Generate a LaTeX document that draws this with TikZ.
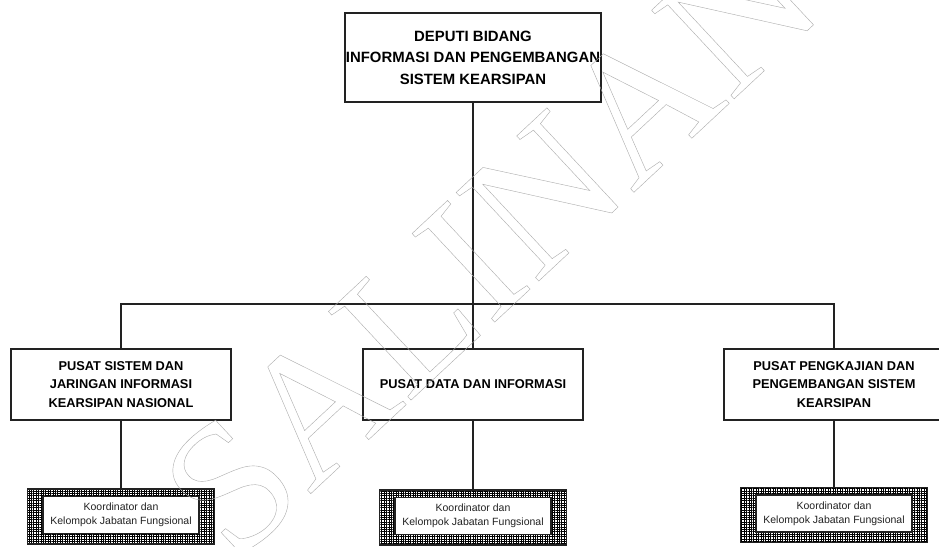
\documentclass[tikz,border=0pt]{standalone}
\usepackage{fontspec}
\setmainfont{Liberation Sans}
\newfontfamily\wmfont{Liberation Serif}
\usetikzlibrary{patterns.meta}
\definecolor{ln}{HTML}{222222}
\tikzset{
 lev1/.style={draw=ln, line width=1.6pt, minimum width=256pt, minimum height=89pt, align=center,
   font=\fontsize{14.9}{21.5}\selectfont\bfseries, inner sep=0pt},
 lev2/.style={draw=ln, line width=1.6pt, minimum width=220pt, minimum height=71pt, align=center,
   font=\fontsize{12.8}{18.5}\selectfont\bfseries, inner sep=0pt},
 gridbox/.style={draw=ln, line width=1.4pt, minimum width=187pt, minimum height=55pt, inner sep=0pt,
   pattern={Hatch[distance=2.4pt, line width=0.5pt]}, pattern color=black},
 innerbox/.style={draw=ln, fill=white, line width=1.4pt, minimum width=156pt, minimum height=37pt,
   align=center, font=\fontsize{10.5}{14}\selectfont, inner sep=0pt, text=ln},
 conn/.style={draw=ln, line width=1.6pt},
 wmark/.style={rotate=43, text=black!33, inner sep=0pt},
}
\begin{document}
\begin{tikzpicture}[x=1pt,y=-1pt]
\useasboundingbox (0,0) rectangle (939,546);
\fill[white] (0,0) rectangle (939,546);

\node[lev1] (top) at (473,57.5) {DEPUTI BIDANG\\INFORMASI DAN PENGEMBANGAN\\SISTEM KEARSIPAN};

\node[lev2] (c1) at (121,384.5) {PUSAT SISTEM DAN\\JARINGAN INFORMASI\\KEARSIPAN NASIONAL};
\node[lev2] (c2) at (473,384.5) {PUSAT DATA DAN INFORMASI};
\node[lev2] (c3) at (834,384.5) {PUSAT PENGKAJIAN DAN\\PENGEMBANGAN SISTEM\\KEARSIPAN};

\node[gridbox] (g1) at (121,516.5) {};
\node[gridbox] (g2) at (473,517.5) {};
\node[gridbox] (g3) at (834,515) {};
\node[innerbox] (k1) at (121,515) {Koordinator dan\\Kelompok Jabatan Fungsional};
\node[innerbox] (k2) at (473,516) {Koordinator dan\\Kelompok Jabatan Fungsional};
\node[innerbox] (k3) at (834,513.5) {Koordinator dan\\Kelompok Jabatan Fungsional};

\coordinate (h) at (473,304);
\draw[conn] (top.south) -- (h);
\draw[conn] (c1.north) |- (h) -| (c3.north);
\draw[conn] (h) -- (c2.north);
\draw[conn] (c1.south) -- (g1.north);
\draw[conn] (c2.south) -- (g2.north);
\draw[conn] (c3.south) -- (g3.north);

\node[wmark] (wm) at (490,244) {\wmfont\fontsize{185}{185}\selectfont\special{pdf:literal direct 0.4 w 1 Tr}SALINAN\special{pdf:literal direct 0 Tr}};
\end{tikzpicture}
\end{document}
